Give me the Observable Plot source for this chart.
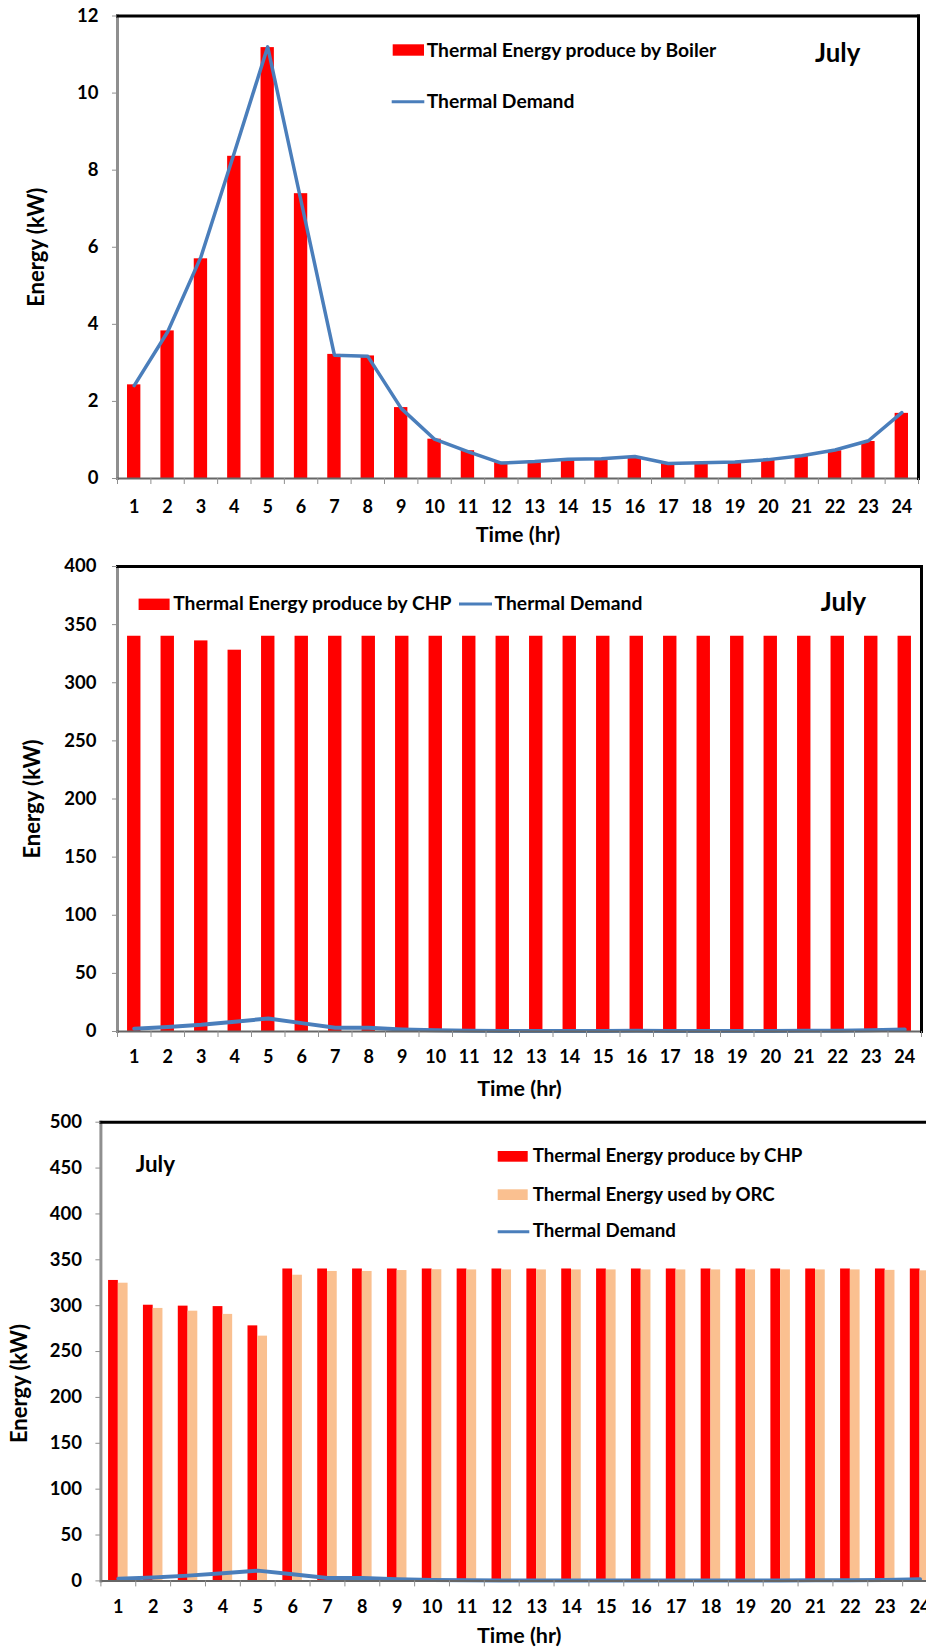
<!DOCTYPE html>
<html>
<head>
<meta charset="utf-8">
<script src="https://cdn.jsdelivr.net/npm/d3@7"></script>
<script src="https://cdn.jsdelivr.net/npm/@observablehq/plot@0.6"></script>
<style>
  html, body { margin: 0; padding: 0; background: #fff; overflow: hidden; }
  #page { position: relative; width: 926px; height: 1648px; overflow: hidden; background: #fff; }
  .panel { position: absolute; left: 0; overflow: visible; }
  .panel svg.overlay { position: absolute; left: 0; top: 0; pointer-events: none; }
  .panel > svg { display: block; }
</style>
</head>
<body>
<div id="page"></div>
<script>
// ---------- data ----------
const hours = [1,2,3,4,5,6,7,8,9,10,11,12,13,14,15,16,17,18,19,20,21,22,23,24];

// Panel 1 (Boiler)
const boilerOutput  = [2.43,3.83,5.70,8.36,11.18,7.39,3.22,3.18,1.84,1.02,0.72,0.41,0.44,0.51,0.51,0.57,0.40,0.42,0.44,0.48,0.58,0.72,0.96,1.69];
const thermalDemand = [2.41,3.80,5.75,8.45,11.20,7.20,3.20,3.17,1.82,1.02,0.70,0.40,0.44,0.50,0.51,0.57,0.39,0.41,0.43,0.49,0.59,0.74,0.98,1.71];

// Panel 2 (CHP)
const chpOutputA = [340,340,336,328,340,340,340,340,340,340,340,340,340,340,340,340,340,340,340,340,340,340,340,340];

// Panel 3 (CHP + ORC)
const chpOutputB = [327.5,300.5,299.5,299,278,340,340,340,340,340,340,340,340,340,340,340,340,340,340,340,340,340,340,340];
const orcUsed    = [324.5,297,294,290.5,266.8,333.2,337.3,337.3,338.3,339.2,339,339,339,339,339,339,339,339,339,339,339,339,338.5,338];

// tick labels
const yTicksA = [0,2,4,6,8,10,12];
const yTicksB = [0,50,100,150,200,250,300,350,400];
const yTicksC = [0,50,100,150,200,250,300,350,400,450,500];

// texts
const monthLabel = "July";
const xTitle = "Time (hr)";
const yTitle = "Energy (kW)";
const legendA = ["Thermal Energy produce by Boiler", "Thermal Demand"];
const legendB = ["Thermal Energy produce by CHP", "Thermal Demand"];
const legendC = ["Thermal Energy produce by CHP", "Thermal Energy used by ORC", "Thermal Demand"];

// colours
const RED = "#ff0000", PEACH = "#fac090", BLUE = "#4a7ebb";
const FONT = "Lato, 'Open Sans', sans-serif";

const rows = hours.map((h, i) => ({
  hour: h,
  boiler: boilerOutput[i],
  demand: thermalDemand[i],
  chpA: chpOutputA[i],
  chpB: chpOutputB[i],
  orc: orcUsed[i]
}));
const bounds = hours.map(h => h - 0.5).concat([hours[hours.length - 1] + 0.5]);

function commonMarks(o) {
  return [
    Plot.frame({anchor: "left", stroke: "#8f8f8f", strokeWidth: 3}),
    Plot.frame({anchor: "bottom", stroke: "#666", strokeWidth: 2}),
    Plot.frame({anchor: "top", stroke: "#000", strokeWidth: 3}),
    Plot.frame({anchor: "right", stroke: "#000", strokeWidth: 3}),
    Plot.axisY({ticks: o.yTicks, tickSize: 5, tickPadding: o.yPad, stroke: "#8f8f8f", fontSize: o.yTickFont, label: null, tickFormat: d => String(d)}),
    Plot.axisX({ticks: bounds, tickSize: 6, stroke: "#8f8f8f", tickFormat: () => "", label: null}),
    Plot.axisX({ticks: hours, tickSize: 0, tickPadding: o.xPad, fontSize: o.xTickFont, label: null, tickFormat: d => String(d)}),
    Plot.text([xTitle], {text: d => d, frameAnchor: "bottom", textAnchor: "middle", lineAnchor: "middle", dy: o.xTitleDy, fontSize: 21.5, fontWeight: "bold"}),
    Plot.text([yTitle], {text: d => d, frameAnchor: "left", textAnchor: "middle", lineAnchor: "middle", rotate: -90, dx: o.yTitleDx, dy: o.yTitleDy || 0, fontSize: 22, fontWeight: "bold"})
  ];
}

function makePanel(o) {
  const div = document.createElement("div");
  div.className = "panel";
  div.style.top = o.top + "px";
  div.style.width = o.width + "px";
  div.style.height = o.height + "px";
  const chart = Plot.plot({
    width: o.width,
    height: o.height,
    marginLeft: o.ml, marginRight: o.mr, marginTop: o.mt, marginBottom: o.mb,
    style: {fontFamily: FONT, fontWeight: "bold", color: "#000", background: "transparent", overflow: "visible"},
    x: {type: "linear", domain: [bounds[0], bounds[bounds.length - 1]], axis: null},
    y: {domain: [0, o.yTicks[o.yTicks.length - 1]], axis: null},
    marks: [...o.marks, ...commonMarks(o)]
  });
  div.appendChild(chart);
  // legend overlay
  const svg = d3.create("svg").attr("class", "overlay").attr("width", o.width).attr("height", o.height)
    .style("font-family", FONT).style("font-weight", "bold");
  for (const it of o.legend) {
    if (it.kind === "rect") svg.append("rect").attr("x", it.x).attr("y", it.y).attr("width", it.w).attr("height", it.h).attr("fill", it.fill);
    else if (it.kind === "line") svg.append("line").attr("x1", it.x1).attr("x2", it.x2).attr("y1", it.y).attr("y2", it.y).attr("stroke", BLUE).attr("stroke-width", 3);
    else svg.append("text").attr("x", it.x).attr("y", it.y).attr("font-size", it.size).attr("fill", "#000").text(it.text);
  }
  div.appendChild(svg.node());
  document.getElementById("page").appendChild(div);
}

// Panel 1
makePanel({
  top: 0, width: 926, height: 550, ml: 117, mr: 8, mt: 15.5, mb: 72,
  yTicks: yTicksA, yPad: 14, xPad: 22, yTickFont: 18.5, xTickFont: 18, xTitleDy: 57, yTitleDx: -81,
  marks: [
    Plot.rectY(rows, {x1: d => d.hour - 0.2, x2: d => d.hour + 0.2, y: "boiler", fill: RED}),
    Plot.lineY(rows, {x: "hour", y: "demand", stroke: BLUE, strokeWidth: 3.5, strokeLinejoin: "round"})
  ],
  legend: [
    {kind: "rect", x: 392.7, y: 44.3, w: 31.3, h: 11.4, fill: RED},
    {kind: "text", x: 426.7, y: 56.7, size: 19.3, text: legendA[0]},
    {kind: "line", x1: 391.7, x2: 424.3, y: 101.7},
    {kind: "text", x: 426.7, y: 107.7, size: 19.3, text: legendA[1]},
    {kind: "text", x: 815, y: 61.7, size: 25.8, text: monthLabel}
  ]
});

// Panel 2
makePanel({
  top: 550, width: 926, height: 550, ml: 117, mr: 5, mt: 16, mb: 69,
  yTicks: yTicksB, yPad: 16, xPad: 19, yTickFont: 18.5, xTickFont: 18, xTitleDy: 58, yTitleDx: -84.6,
  marks: [
    Plot.rectY(rows, {x1: d => d.hour - 0.2, x2: d => d.hour + 0.2, y: "chpA", fill: RED}),
    Plot.lineY(rows, {x: "hour", y: "demand", stroke: BLUE, strokeWidth: 4, strokeLinejoin: "round"})
  ],
  legend: [
    {kind: "rect", x: 138.6, y: 48.6, w: 31, h: 11.4, fill: RED},
    {kind: "text", x: 173.2, y: 60, size: 19.3, text: legendB[0]},
    {kind: "line", x1: 459, x2: 492, y: 53.9},
    {kind: "text", x: 494.6, y: 60, size: 19.3, text: legendB[1]},
    {kind: "text", x: 820.8, y: 60.7, size: 25.8, text: monthLabel}
  ]
});

// Panel 3
makePanel({
  top: 1100, width: 960, height: 548, ml: 100.4, mr: 23, mt: 21.7, mb: 67.6,
  yTicks: yTicksC, yPad: 14, xPad: 19.6, yTickFont: 18.5, xTickFont: 18, xTitleDy: 55.3, yTitleDx: -81.1, yTitleDy: 32,
  marks: [
    Plot.rectY(rows, {x1: d => d.hour - 0.28, x2: d => d.hour, y: "chpB", fill: RED}),
    Plot.rectY(rows, {x1: d => d.hour, x2: d => d.hour + 0.28, y: "orc", fill: PEACH}),
    Plot.lineY(rows, {x: "hour", y: "demand", stroke: BLUE, strokeWidth: 4, strokeLinejoin: "round"})
  ],
  legend: [
    {kind: "rect", x: 497.7, y: 51, w: 30, h: 10.7, fill: RED},
    {kind: "text", x: 532.7, y: 62.3, size: 18.7, text: legendC[0]},
    {kind: "rect", x: 497.7, y: 89.3, w: 30, h: 10.7, fill: PEACH},
    {kind: "text", x: 532.7, y: 100.7, size: 18.7, text: legendC[1]},
    {kind: "line", x1: 497.7, x2: 529.3, y: 131.7},
    {kind: "text", x: 532.7, y: 137.3, size: 18.7, text: legendC[2]},
    {kind: "text", x: 135.7, y: 71.7, size: 22.4, text: monthLabel}
  ]
});
</script>
</body>
</html>
